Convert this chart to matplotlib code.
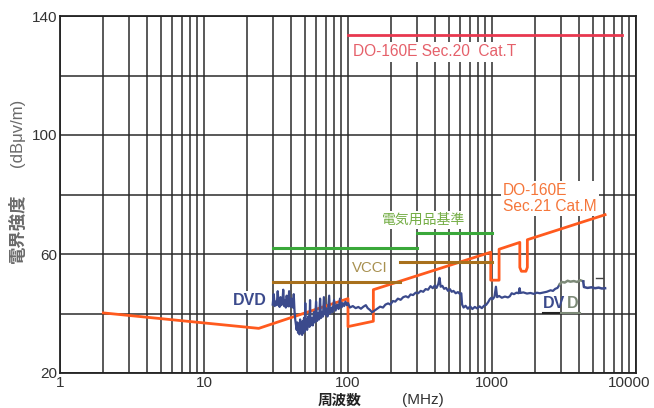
import matplotlib
matplotlib.use("Agg")
import matplotlib.pyplot as plt
import matplotlib.transforms as mtransforms
from matplotlib.ticker import FixedLocator, NullFormatter

plt.rcParams['font.family'] = ['Liberation Sans', 'Noto Sans CJK JP', 'DejaVu Sans']

# limit lines (frequency in MHz, level in dBuV/m)
sec20_f = [100, 8000]
sec20_db = [133.5, 133.5]

sec21_f = [2, 24, 100, 100, 150, 150, 980, 980, 1120, 1120, 1560, 1560, 1600, 1720, 1760, 1760, 6100]
sec21_db = [40.2, 35.0, 45.0, 35.6, 37.4, 48.0, 60.6, 51.2, 51.2, 61.6, 63.9, 55.5, 54.2, 54.2, 55.5, 64.8, 73.2]

denki_lo_f = [30, 300]
denki_lo_db = [62.0, 62.0]
denki_hi_f = [300, 1000]
denki_hi_db = [67.0, 67.0]

vcci_lo_f = [30, 230]
vcci_lo_db = [50.5, 50.5]
vcci_hi_f = [230, 1000]
vcci_hi_db = [57.2, 57.2]

# measured DVD emission
dvd_f = [30, 30.5, 31, 31.5, 32, 32.5, 33, 33.5, 34, 34.5, 35, 35.5, 36, 36.5, 37, 37.5,
         38, 38.5, 39, 39.5, 40, 40.5, 41, 41.5, 42, 42.5, 43,
         44, 44.5, 45, 45.5, 46, 46.5, 47, 47.5, 48, 48.5, 49, 49.5, 50, 50.5, 51, 51.5,
         52, 53, 54, 54.5, 55, 56,
         57, 58, 59, 60, 61, 62, 63, 64, 65, 66, 67, 68, 70, 71, 72, 74, 75, 77, 78, 80,
         82, 84, 86, 88, 90, 92, 94, 96, 98, 100,
         103, 108, 113, 118, 123, 128, 133, 137, 142, 147, 152,
         160, 167, 175, 182, 190, 197, 205, 213, 222, 232, 242, 252, 262, 272, 283, 295,
         307, 320, 333, 346, 360, 374, 388, 400, 412, 424, 432, 440, 452, 465, 480, 495,
         510, 525, 540, 560, 580, 600, 612,
         620, 635, 655, 680, 705, 730, 760, 790, 820, 850, 880, 910, 940, 965, 990, 1010,
         1040, 1065, 1085, 1120, 1170, 1230, 1290, 1330, 1370, 1420, 1480, 1530, 1555,
         1575, 1650, 1750, 1850, 1950, 2050, 2150, 2250, 2400, 2550, 2650, 2750, 2850, 2950]
dvd_db = [43.0, 46.5, 42.5, 44.0, 42.8, 47.5, 43.0, 42.2, 45.5, 42.8, 43.5, 48.0, 42.5, 44.5, 42.0, 46.0,
          43.2, 42.4, 47.5, 43.0, 42.2, 45.0, 43.5, 42.0, 46.5, 41.0, 38.0,
          34.5, 37.0, 33.5, 36.5, 33.0, 38.0, 33.5, 36.0, 32.8, 37.5, 33.5, 38.5, 34.0, 43.5, 35.0, 38.0,
          34.5, 39.0, 35.5, 44.5, 36.0, 38.5,
          36.0, 40.5, 37.0, 44.0, 37.5, 40.0, 38.0, 45.0, 38.5, 40.5, 39.0, 45.5, 39.5, 41.5, 39.0, 46.0, 40.0, 42.0, 40.5, 44.5,
          41.0, 43.0, 41.5, 45.0, 42.0, 43.5, 42.5, 44.0, 42.8, 43.5,
          42.0, 42.5, 41.8, 42.2, 41.6, 42.3, 42.8, 41.8, 41.2, 40.4, 40.9,
          41.7, 42.3, 42.0, 43.0, 43.4, 43.0, 44.2, 44.0, 45.0, 44.6, 45.5, 45.8, 45.4, 46.4, 46.2, 47.0,
          46.8, 47.6, 47.3, 48.2, 48.0, 49.2, 48.5, 49.4, 48.6, 50.0, 52.0, 49.0, 49.3, 48.3, 48.6, 47.6,
          48.2, 47.3, 47.6, 46.8, 47.2, 46.5, 46.8,
          43.0, 42.0, 42.6, 41.6, 42.4, 41.5, 42.2, 41.7, 42.4, 41.8, 42.6, 42.9, 43.8, 44.8, 45.3, 44.8,
          45.6, 49.0, 45.5, 45.9, 45.3, 45.7, 45.4, 45.8, 46.8, 46.5, 47.0, 46.8, 48.5,
          46.9, 47.1, 46.7, 46.9, 46.6, 47.0, 46.8, 47.0, 47.3, 47.8, 47.6, 48.3, 48.6, 49.8]

dvd_gray_f = [2950, 3050, 3200, 3350, 3500, 3700, 3900, 4100, 4300]
dvd_gray_db = [49.8, 50.6, 50.4, 51.0, 50.7, 50.9, 50.6, 51.2, 50.8]

dvd_end_f = [4300, 4350, 4600, 4900, 5200, 5500, 5800, 6100]
dvd_end_db = [50.8, 48.9, 48.6, 48.8, 48.5, 48.7, 48.4, 48.5]

dash_f = [5250, 5900]
dash_db = [52.0, 52.0]

x_ticks = [1, 10, 100, 1000, 10000]
x_labels = ['1', '10', '100', '1000', '10000']
y_ticks = [20, 60, 100, 140]

navy = '#3b4a8c'
grayline = '#7d8a78'

fig = plt.figure(figsize=(6.54, 4.08), dpi=100)
ax = fig.add_axes([60/654, 1-373/408, 576/654, 357/408])

ax.set_xscale('log')
ax.set_xlim(1, 10000)
ax.set_ylim(20, 140)
ax.set_xticks(x_ticks)
ax.set_xticklabels(x_labels)
ax.xaxis.set_minor_locator(FixedLocator([m * 10**e for e in range(0, 4) for m in range(2, 10)]))
ax.xaxis.set_minor_formatter(NullFormatter())
ax.set_yticks(y_ticks)
ax.yaxis.set_minor_locator(FixedLocator([40, 80, 120]))
ax.tick_params(which='both', length=0, labelsize=11, labelcolor='#333333', pad=2)
ax.set_axisbelow(True)
ax.grid(True, which='both', color='#2b2b2b', lw=1.1)
for s in ax.spines.values():
    s.set_color('#222222')
    s.set_linewidth(1.3)

# the last label sits a little left so it stays inside the picture
last = ax.get_xticklabels()[-1]
last.set_transform(last.get_transform() + mtransforms.ScaledTranslation(-7/100, 0, fig.dpi_scale_trans))

# limit lines
ax.plot(sec20_f, sec20_db, color='#e8384f', lw=2, zorder=3)
ax.plot(sec21_f, sec21_db, color='#ff5a1e', lw=2, zorder=3)
ax.plot(denki_lo_f, denki_lo_db, color='#3aa83a', lw=2.2, zorder=3)
ax.plot(denki_hi_f, denki_hi_db, color='#3aa83a', lw=2.2, zorder=3)
ax.plot(vcci_lo_f, vcci_lo_db, color='#a8701c', lw=2.2, zorder=3)
ax.plot(vcci_hi_f, vcci_hi_db, color='#a8701c', lw=2.2, zorder=3)

# DVD trace
ax.plot(dvd_f, dvd_db, color=navy, lw=1.6, zorder=4)
ax.plot(dvd_gray_f, dvd_gray_db, color=grayline, lw=1.8, zorder=4)
ax.plot(dvd_end_f, dvd_end_db, color=navy, lw=1.8, zorder=4)
ax.plot(dash_f, dash_db, color='#444444', lw=1, zorder=4)

wb = dict(facecolor='white', edgecolor='none', pad=1.5)
ax.text(108, 127.9, 'DO-160E Sec.20  Cat.T', color='#e5606a', fontsize=11.2,
        ha='left', va='center', bbox=wb, zorder=1)
ax.text(1192, 78.7, 'DO-160E\nSec.21 Cat.M', color='#f5763a', fontsize=11.2,
        ha='left', va='center', linespacing=1.05, bbox=wb, zorder=1)
ax.text(172, 71.4, '電気用品基準', color='#74ad45', fontsize=10,
        ha='left', va='center', bbox=wb, zorder=1)
ax.text(106.6, 55.3, 'VCCI', color='#a89050', fontsize=10.8,
        ha='left', va='center', bbox=wb, zorder=1)
ax.text(20.9, 44.5, 'DVD', color=navy, fontsize=11.5, fontweight='bold',
        ha='center', va='center', bbox=wb, zorder=1)
ax.text(2261, 43.5, 'DV', color=navy, fontsize=11.5, fontweight='bold',
        ha='left', va='center', zorder=5)
ax.text(3300, 43.5, 'D', color=grayline, fontsize=11.5, fontweight='bold',
        ha='left', va='center', zorder=5)
ax.plot([2261, 3000], [40.2, 40.2], color='#222222', lw=1.5, zorder=5)
ax.plot([3000, 4100], [40.2, 40.2], color=grayline, lw=1.5, zorder=5)

# axis titles
fig.text(18/654, 1-228/408, '電界強度', rotation=90, color='#6a6a6a', fontsize=12.5,
         fontweight='bold', ha='center', va='center', family=['Noto Sans CJK JP'])
fig.text(18/654, 1-133/408, '(dBμv/m)', rotation=90, color='#6a6a6a', fontsize=12,
         ha='center', va='center')
fig.text(340/654, 1-400/408, '周波数', color='#222222', fontsize=10.5, fontweight='bold',
         ha='center', va='center', family=['Noto Sans CJK JP'])
fig.text(423/654, 1-400/408, '(MHz)', color='#333333', fontsize=11,
         ha='center', va='center')

fig.savefig('out.png', dpi=100)
